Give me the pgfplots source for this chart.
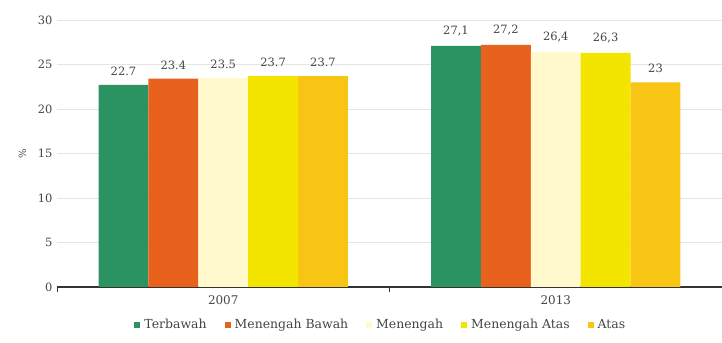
\documentclass[border=0pt]{standalone}
\usepackage{fontspec}
\setmainfont{DejaVu Serif}
\usepackage{pgfplots}
\pgfplotsset{compat=1.18}

\definecolor{cTerbawah}{HTML}{2B9262}
\definecolor{cMenBawah}{HTML}{E8621E}
\definecolor{cMenengah}{HTML}{FFF9CC}
\definecolor{cMenAtas}{HTML}{F3E500}
\definecolor{cAtas}{HTML}{F9C514}
\definecolor{txt}{HTML}{444444}

\begin{document}
\begin{tikzpicture}[font=\fontsize{12}{14}\selectfont]
\useasboundingbox (0,0) rectangle (722bp,343bp);
\begin{axis}[
  at={(57bp,56bp)}, anchor=south west,
  scale only axis, width=665bp, height=267bp,
  ybar=0pt, bar width=0.15,
  xmin=-0.5, xmax=1.5, ymin=0, ymax=30,
  ytick={0,5,...,30},
  xtick={0,1}, xticklabels={2007,2013},
  /pgf/number format/assume math mode=true,
  axis x line*=bottom, axis y line*=left,
  y axis line style={draw=none},
  x axis line style={draw=black!80, line width=1.1pt},
  xtick style={draw=none}, ytick style={draw=none},
  extra x ticks={-0.5,0.5}, extra x tick labels={},
  extra x tick style={xtick style={draw=black!80, line width=0.8pt}, major tick length=5bp, tick align=outside},
  ymajorgrids, grid style={black!10, line width=0.6pt},
  tick label style={text=txt, font=\fontsize{11.5}{13}\selectfont},
  yticklabel style={xshift=-1bp},
  xticklabel style={yshift=-1bp, font=\fontsize{12}{14}\selectfont},
  ylabel={\%},
  ylabel style={at={(axis description cs:-0.052,0.5)}, anchor=center,
    text=txt, font=\fontsize{10}{12}\selectfont},
  point meta=explicit symbolic,
  nodes near coords,
  every node near coord/.append style={text=txt, font=\fontsize{11.5}{13}\selectfont, yshift=6bp},
  legend columns=5,
  legend style={draw=none, fill=none, at={(0.487,-0.142)}, anchor=center,
    font=\fontsize{12.5}{14}\selectfont, text=txt,
    /tikz/every odd column/.append style={column sep=2bp},
    /tikz/every even column/.append style={column sep=16bp}},
  legend image code/.code={\fill (0bp,-3bp) rectangle (6bp,3bp);},
]
\addplot[fill=cTerbawah, draw=none] coordinates {(0,22.7) [22.7] (1,27.1) [27,1]};
\addplot[fill=cMenBawah, draw=none] coordinates {(0,23.4) [23.4] (1,27.2) [27,2]};
\addplot[fill=cMenengah, draw=none] coordinates {(0,23.5) [23.5] (1,26.4) [26,4]};
\addplot[fill=cMenAtas, draw=none] coordinates {(0,23.7) [23.7] (1,26.3) [26,3]};
\addplot[fill=cAtas, draw=none] coordinates {(0,23.7) [23.7] (1,23) [23]};
\legend{Terbawah, Menengah Bawah, Menengah, Menengah Atas, Atas}
\end{axis}
\end{tikzpicture}
\end{document}
